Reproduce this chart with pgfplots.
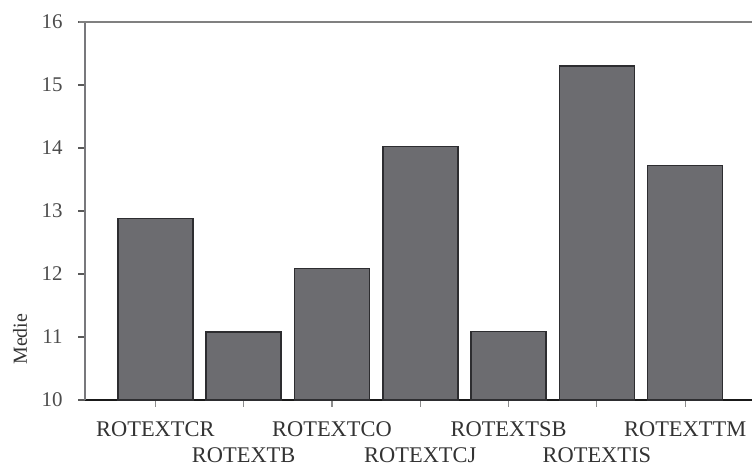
\documentclass[border=0pt]{standalone}
\usepackage{fontspec}
\setmainfont{Liberation Serif}
\usepackage{pgfplots}
\pgfplotsset{compat=1.18}
\definecolor{barfill}{RGB}{108,108,112}
\definecolor{baredge}{RGB}{45,45,48}
\definecolor{spine}{RGB}{120,120,124}
\begin{document}
\begin{tikzpicture}[x=1bp,y=1bp]
\path[use as bounding box] (0,0) rectangle (752,470);
\begin{axis}[
  at={(85bp,70bp)}, anchor=south west,
  scale only axis, width=667bp, height=378bp,
  /pgf/number format/assume math mode=true,
  xmin=-0.797, xmax=6.757,
  ymin=10, ymax=16,
  ytick={10,11,12,13,14,15,16},
  axis x line*=bottom, axis y line*=left,
  x axis line style={line width=2bp, black!90, -},
  y axis line style={line width=2.5bp, spine, -},
  xtick={0,2,4,6},
  xticklabels={ROTEXTCR,ROTEXTCO,ROTEXTSB,ROTEXTTM},
  extra x ticks={1,3,5},
  extra x tick labels={ROTEXTB,ROTEXTCJ,ROTEXTIS},
  extra x tick style={tick label style={yshift=-26bp}},
  tick align=outside,
  major tick length=7bp,
  x tick style={line width=1.2bp, black!45},
  y tick style={line width=1.8bp, black!65},
  xticklabel style={font=\fontsize{22.5}{22.5}\selectfont, text=black!80, yshift=-11bp},
  yticklabel style={font=\fontsize{21}{21}\selectfont, text=black!70, xshift=-12bp},
  ylabel={Medie},
  ylabel style={font=\fontsize{20}{20}\selectfont, text=black!80, at={(axis description cs:-0.0975,0.161)}, anchor=center},
  ybar, bar width=75bp,
  clip=false,
]
\addplot[fill=barfill, draw=baredge, line width=1.5bp] coordinates {
  (0,12.88) (1,11.08) (2,12.09) (3,14.02) (4,11.09) (5,15.30) (6,13.72)
};
\draw[line width=2bp, black!50] (rel axis cs:-0.009,1) -- (rel axis cs:1,1);
\end{axis}
\end{tikzpicture}
\end{document}
